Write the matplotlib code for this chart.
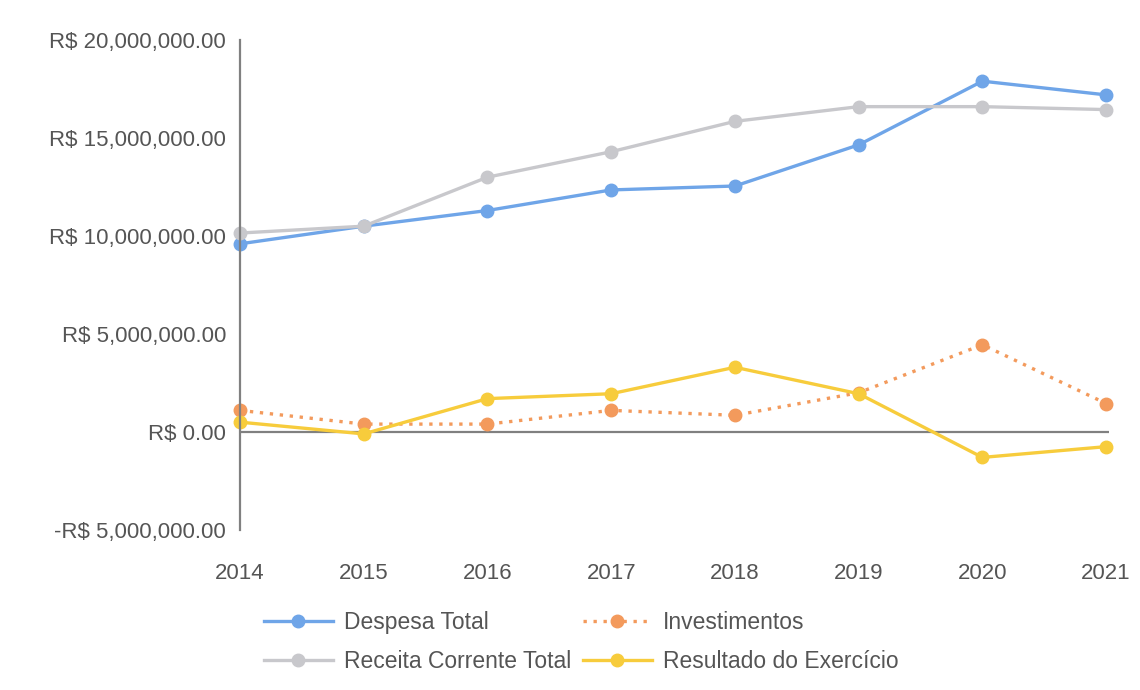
import matplotlib.pyplot as plt
from matplotlib.ticker import FuncFormatter

plt.rcParams['font.family'] = ['Liberation Sans', 'DejaVu Sans']

anos = ['2014', '2015', '2016', '2017', '2018', '2019', '2020', '2021']
despesa_total = [9.6e6, 10.5e6, 11.3e6, 12.35e6, 12.55e6, 14.65e6, 17.9e6, 17.2e6]
receita_corrente = [10.15e6, 10.5e6, 13.0e6, 14.3e6, 15.85e6, 16.6e6, 16.6e6, 16.45e6]
investimentos = [1.1e6, 0.4e6, 0.4e6, 1.1e6, 0.85e6, 2.0e6, 4.45e6, 1.45e6]
resultado = [0.5e6, -0.1e6, 1.7e6, 1.95e6, 3.3e6, 1.95e6, -1.3e6, -0.75e6]

txt = '#555555'


def reais(v, pos):
    s = f"R$ {abs(v):,.2f}"
    return '-' + s if v < 0 else s


fig = plt.figure(figsize=(11.4, 6.9), dpi=100)
ax = fig.add_axes([0.2105, 0.232, 0.762, 0.71])

x = range(len(anos))
kw = dict(lw=2.4, marker='o', ms=9, clip_on=False)
l1, = ax.plot(x, despesa_total, color='#6fa5e8', label='Despesa Total', **kw)
l2, = ax.plot(x, receita_corrente, color='#c8c8cc', label='Receita Corrente Total', **kw)
l3, = ax.plot(x, investimentos, color='#f39a5c', ls=(0, (1, 2)), label='Investimentos', **kw)
l4, = ax.plot(x, resultado, color='#f7cc3c', label='Resultado do Exercício', **kw)

ax.axhline(0, color='#808080', lw=1.6, zorder=1)

ax.set_xlim(0, 7.02)
ax.set_ylim(-5e6, 20e6)
ax.set_yticks([-5e6, 0, 5e6, 10e6, 15e6, 20e6])
ax.yaxis.set_major_formatter(FuncFormatter(reais))
ax.set_xticks(list(x))
ax.set_xticklabels(anos)
ax.tick_params(axis='both', length=0, labelsize=16, colors=txt)
ax.tick_params(axis='y', pad=10)
ax.tick_params(axis='x', pad=24)

for s in ['top', 'right', 'bottom']:
    ax.spines[s].set_visible(False)
ax.spines['left'].set_color('#808080')
ax.spines['left'].set_linewidth(1.6)

fig.legend(handles=[l1, l2, l3, l4], ncol=2, loc='center', bbox_to_anchor=(0.51, 0.07),
           frameon=False, fontsize=16.5, labelcolor=txt, handlelength=3.0,
           columnspacing=0.5, handletextpad=0.5, labelspacing=0.7)

fig.savefig('out.png', dpi=100, facecolor='white')
